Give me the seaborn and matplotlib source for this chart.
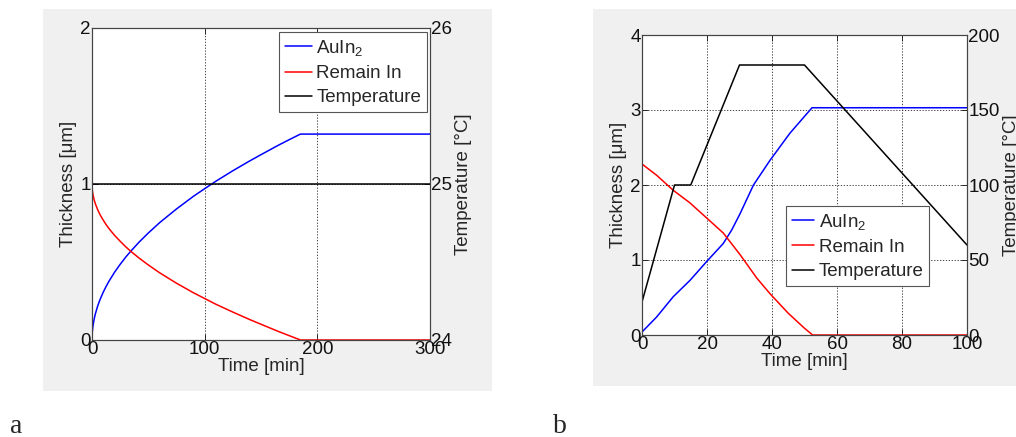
import numpy as np
import pandas as pd
import matplotlib
matplotlib.use("Agg")
import matplotlib.pyplot as plt
from matplotlib.patches import Rectangle
import seaborn as sns

# ---------------- data: panel a ----------------
a_time = [0, 0.3, 0.7, 1, 2, 3, 5, 7, 10, 12.5, 15, 20, 25, 30, 35, 42, 50, 60, 75, 90, 100, 110, 125, 140, 150, 165, 175, 185, 300]
a_auin2 = [0, 0.053, 0.081, 0.097, 0.137, 0.168, 0.217, 0.257, 0.307, 0.343, 0.376, 0.434, 0.485, 0.532, 0.574,
           0.629, 0.686, 0.752, 0.840, 0.921, 0.970, 1.018, 1.085, 1.148, 1.188, 1.247, 1.284, 1.32, 1.32]
a_remain = [1.0, 0.96, 0.939, 0.927, 0.896, 0.873, 0.836, 0.805, 0.768, 0.740, 0.715, 0.671, 0.633, 0.597, 0.565,
            0.524, 0.481, 0.431, 0.364, 0.303, 0.266, 0.229, 0.179, 0.131, 0.101, 0.056, 0.028, 0.0, 0.0]
a_temp_time = [0, 300]
a_temp = [25, 25]

# ---------------- data: panel b ----------------
b_time = [0, 4.5, 9.6, 14.8, 19.9, 25, 27.6, 30.2, 34.3, 39.4, 45.5, 52.3, 100]
b_auin2 = [0.04, 0.24, 0.51, 0.73, 0.98, 1.22, 1.40, 1.62, 2.0, 2.33, 2.69, 3.03, 3.03]
b_remain_time = [0, 4.5, 9.6, 14.8, 19.9, 25, 30.2, 35.3, 39.4, 45, 50, 52.5, 100]
b_remain = [2.28, 2.13, 1.93, 1.76, 1.56, 1.36, 1.07, 0.76, 0.55, 0.29, 0.09, 0.0, 0.0]
b_temp_time = [0, 10, 15, 30, 50, 100]
b_temp = [22, 100, 100, 180, 180, 60]

labels = ["AuIn$_2$", "Remain In", "Temperature"]

sns.set_theme(style="white")
plt.rcParams["font.family"] = ["Liberation Sans", "DejaVu Sans"]
plt.rcParams["mathtext.default"] = "regular"
FS = 13.5

W, H = 1016, 437
fig = plt.figure(figsize=(W / 100, H / 100), dpi=100)
fig.patch.set_facecolor("white")

def fx(px):
    return px / W

def fy(py):
    return 1 - py / H

# grey backgrounds
fig.patches.append(Rectangle((fx(43), fy(391)), fx(492) - fx(43), fy(9) - fy(391),
                             transform=fig.transFigure, facecolor="#f0f0f0", edgecolor="none", zorder=-10))
fig.patches.append(Rectangle((fx(593), fy(386)), 0.5, fy(9) - fy(386),
                             transform=fig.transFigure, facecolor="#f0f0f0", edgecolor="none", zorder=-10))


def make_panel(box, t1, y1, t2, y2, tt, temp, xlim, ylim, ylim2, xticks, yticks, yticks2, leg_anchor, hl):
    l, t, r, b = box
    ax = fig.add_axes([fx(l), fy(b), fx(r) - fx(l), fy(t) - fy(b)])
    ax.set_facecolor("white")
    sns.lineplot(x=t1, y=y1, ax=ax, color="#0000ff", lw=1.1, sort=False, label=labels[0])
    sns.lineplot(x=t2, y=y2, ax=ax, color="#ff0000", lw=1.1, sort=False, label=labels[1])
    ax.get_legend().remove()
    ax.set_xlim(*xlim)
    ax.set_ylim(*ylim)
    ax.set_xticks(xticks)
    ax.set_yticks(yticks)
    ax.grid(True, color="#222222", linestyle=(0, (1.5, 2)), linewidth=0.6)
    ax.set_xlabel("Time [min]", fontsize=FS, labelpad=0)
    ax.set_ylabel("Thickness [\u03bcm]", fontsize=FS, labelpad=2)
    ax.tick_params(direction="in", length=4, width=0.6, labelsize=FS, pad=1,
                   top=True, left=True, bottom=True, colors="#111111")

    ax2 = ax.twinx()
    sns.lineplot(x=tt, y=temp, ax=ax2, color="black", lw=1.1, sort=False, label=labels[2])
    ax2.get_legend().remove()
    ax2.set_ylim(*ylim2)
    ax2.set_yticks(yticks2)
    ax2.set_ylabel("Temperature [\u00b0C]", fontsize=FS, labelpad=2)
    ax2.tick_params(direction="in", length=4, width=0.6, labelsize=FS, pad=1, right=True, colors="#111111")
    for a in (ax, ax2):
        for s in a.spines.values():
            s.set_color("#444444")
            s.set_linewidth(0.8)
    h = ax.get_lines()[:2] + ax2.get_lines()[:1]
    leg = ax2.legend(h, labels, loc="upper right", bbox_to_anchor=leg_anchor, borderaxespad=0,
                     fontsize=FS, fancybox=False, framealpha=1, edgecolor="#555555",
                     handlelength=hl, handletextpad=0.25, labelspacing=0.38, borderpad=0.3)
    leg.get_frame().set_linewidth(0.8)
    return ax, ax2


make_panel((92, 28, 430, 340), a_time, a_auin2, a_time, a_remain, a_temp_time, a_temp,
           (0, 300), (0, 2), (24, 26), [0, 100, 200, 300], [0, 1, 2], [24, 25, 26], (0.991, 0.986), 1.45)
make_panel((642, 35, 967, 335), b_time, b_auin2, b_remain_time, b_remain, b_temp_time, b_temp,
           (0, 100), (0, 4), (0, 200), [0, 20, 40, 60, 80, 100], [0, 1, 2, 3, 4],
           [0, 50, 100, 150, 200], (0.884, 0.43), 1.2)

fig.text(fx(10), fy(433), "a", family=["Liberation Serif", "DejaVu Serif"], fontsize=20, ha="left", va="baseline")
fig.text(fx(553), fy(433), "b", family=["Liberation Serif", "DejaVu Serif"], fontsize=20, ha="left", va="baseline")

fig.savefig("out.png", dpi=100)
